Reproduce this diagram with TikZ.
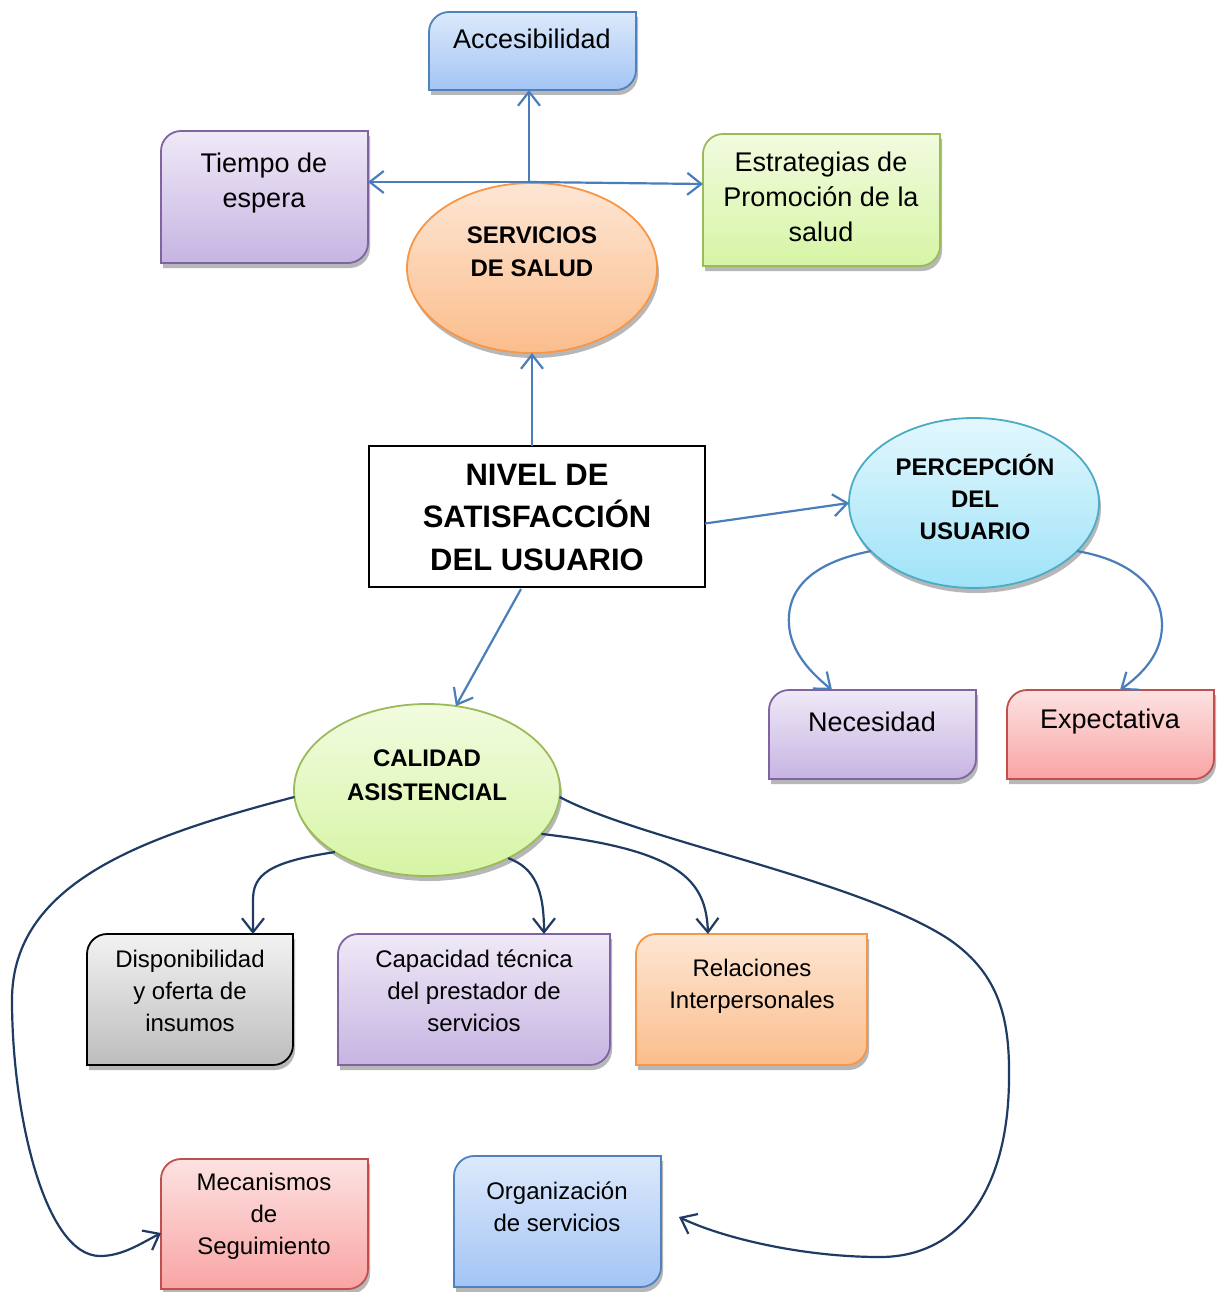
\documentclass[tikz,border=0pt]{standalone}
\usepackage{fontspec}
\setmainfont{Liberation Sans}
\usetikzlibrary{arrows.meta,shapes.geometric,shadows,calc,fit}

\definecolor{lineblue}{HTML}{4A7EBB}
\definecolor{navy}{HTML}{1F3B63}
\definecolor{blueT}{HTML}{DCE9FB}\definecolor{blueB}{HTML}{A3C4F5}\definecolor{blueD}{HTML}{4F81BD}
\definecolor{purpT}{HTML}{EFE9F7}\definecolor{purpB}{HTML}{C6B4E2}\definecolor{purpD}{HTML}{8064A2}
\definecolor{grnT}{HTML}{F2FBDF}\definecolor{grnB}{HTML}{D6F5A5}\definecolor{grnD}{HTML}{9BBB59}
\definecolor{orT}{HTML}{FDE6D4}\definecolor{orB}{HTML}{FBBD8C}\definecolor{orD}{HTML}{F79646}
\definecolor{redT}{HTML}{FDE2E2}\definecolor{redB}{HTML}{F9A4A4}\definecolor{redD}{HTML}{C0504D}
\definecolor{gryT}{HTML}{F2F2F2}\definecolor{gryB}{HTML}{BDBDBD}
\definecolor{cyT}{HTML}{E3F7FD}\definecolor{cyB}{HTML}{9FE3F8}\definecolor{cyD}{HTML}{4BACC6}

\tikzset{
  pane/.style={inner sep=0pt, outer sep=0pt},
  softshadow/.style={drop shadow={shadow xshift=2pt, shadow yshift=-5pt, fill=black!35, opacity=.8}},
  fblue/.style={top color=blueT, bottom color=blueB, draw=blueD},
  fpurp/.style={top color=purpT, bottom color=purpB, draw=purpD},
  fgrn/.style={top color=grnT, bottom color=grnB, draw=grnD},
  forg/.style={top color=orT, bottom color=orB, draw=orD},
  fred/.style={top color=redT, bottom color=redB, draw=redD},
  fgry/.style={top color=gryT, bottom color=gryB, draw=black},
  fcyan/.style={top color=cyT, bottom color=cyB, draw=cyD},
  bubble/.style={ellipse, inner sep=0pt, outer sep=0pt, line width=1.8pt,
    minimum width=250pt, minimum height=170pt, softshadow},
  big/.style={align=center, inner sep=0pt, font=\fontsize{27}{35}\selectfont},
  small/.style={align=center, inner sep=0pt, font=\fontsize{24}{32}\selectfont},
  bold/.style={align=center, inner sep=0pt, font=\bfseries\fontsize{24}{33}\selectfont},
  tip/.style={-{Straight Barb[length=14pt,width=22pt]}},
  blueln/.style={draw=lineblue, line width=2.2pt, tip},
  navyln/.style={draw=navy, line width=2.2pt, tip},
}

% box with rounded top-left and bottom-right corners, drawn on a named node
\newcommand\panel[2]{%
  \path[line width=1.8pt, softshadow, #2]
    ($(#1.north west)+(0,20)$) .. controls ($(#1.north west)+(0,9)$) and ($(#1.north west)+(9,0)$) .. ($(#1.north west)+(20,0)$)
    -- (#1.north east)
    -- ($(#1.south east)+(0,-20)$) .. controls ($(#1.south east)+(0,-9)$) and ($(#1.south east)+(-9,0)$) .. ($(#1.south east)+(-20,0)$)
    -- (#1.south west) -- cycle;}

\begin{document}
\begin{tikzpicture}[x=1pt, y=-1pt]
\fill[white] (0,0) rectangle (1219,1292);
\useasboundingbox (0,0) rectangle (1219,1292);

% box frames
\node[pane, fit={(429,12) (636,90)}] (acc) {};
\node[pane, fit={(161,131) (368,263)}] (tie) {};
\node[pane, fit={(703,134) (940,266)}] (est) {};
\node[pane, fit={(769,690) (976,779)}] (nec) {};
\node[pane, fit={(1007,690) (1214,779)}] (exp) {};
\node[pane, fit={(87,934) (293,1065)}] (dis) {};
\node[pane, fit={(338,934) (610,1065)}] (cap) {};
\node[pane, fit={(636,934) (867,1065)}] (rel) {};
\node[pane, fit={(161,1159) (368,1289)}] (mec) {};
\node[pane, fit={(454,1156) (661,1287)}] (org) {};

\panel{acc}{fblue}
\panel{tie}{fpurp}
\panel{est}{fgrn}
\panel{nec}{fpurp}
\panel{exp}{fred}
\panel{dis}{fgry}
\panel{cap}{fpurp}
\panel{rel}{forg}
\panel{mec}{fred}
\panel{org}{fblue}

% ellipses
\node[bubble, forg] (ser) at (532,268) {};
\node[bubble, fcyan] (per) at (974,503) {};
\node[bubble, fgrn, minimum width=266pt, minimum height=172pt] (cal) at (427,790) {};

% central box
\node[pane, draw=black, line width=1.3pt, fill=white, fit={(369,446) (705,587)}] (niv) {};

% labels
\node[big] (acc-t) at (532,39) {Accesibilidad};
\node[big] (tie-t) at (264,183) {Tiempo de\\espera};
\node[big] (est-t) at (821,197) {Estrategias de\\Promoción de la\\salud};
\node[big] (nec-t) at (872,722) {Necesidad};
\node[big] (exp-t) at (1110,722) {Expectativa};
\node[small] (dis-t) at (190,991) {Disponibilidad\\y oferta de\\insumos};
\node[small] (cap-t) at (474,991) {Capacidad técnica\\del prestador de\\servicios};
\node[small] (rel-t) at (752,986) {Relaciones\\Interpersonales};
\node[small] (mec-t) at (264,1216) {Mecanismos\\de\\Seguimiento};
\node[small] (org-t) at (557,1207) {Organización\\de servicios};
\node[bold] (ser-t) at (532,252) {SERVICIOS\\DE SALUD};
\node[bold, font=\bfseries\fontsize{24}{32}\selectfont] (per-t) at (975,497) {PERCEPCIÓN\\DEL\\USUARIO};
\node[bold, font=\bfseries\fontsize{24}{34}\selectfont] (cal-t) at (427,775) {CALIDAD\\ASISTENCIAL};
\node[align=center, inner sep=0pt, font=\bfseries\fontsize{31}{42.5}\selectfont] (niv-t) at (537,517) {NIVEL DE\\SATISFACCIÓN\\DEL USUARIO};

% blue connectors
\coordinate (hub) at (529,182);
\draw[blueln] (niv.north -| ser.south) -- (ser.south);
\draw[blueln] (hub) -- (hub |- acc.south);
\draw[blueln] (hub) -- (tie.east |- hub);
\draw[blueln] (hub) -- ($(est.west |- hub)+(0,2)$);
\draw[blueln] ($(niv.east)+(0,7)$) -- (per.west);
\draw[blueln] ($(niv.south)+(-16,2)$) -- (cal.71);
\draw[blueln] (per.205) .. controls (800,565) and (787,598) .. (789,625)
  .. controls (791,652) and (810,672) .. (nec.north -| 832,0);
\draw[blueln] (per.-25) .. controls (1140,562) and (1162,595) .. (1162,625)
  .. controls (1162,652) and (1145,672) .. (exp.north -| 1120,0);

% navy connectors
\draw[navyln] (cal.183) .. controls (150,835) and (12,880) .. (12,1000)
  .. controls (12,1115) and (45,1256) .. (100,1256)
  .. controls (122,1256) and (140,1244) .. (mec.west |- 0,1233);
\draw[navyln] (cal.-3) .. controls (640,840) and (860,880) .. (950,940)
  .. controls (1000,975) and (1010,1020) .. (1009,1080)
  .. controls (1008,1190) and (960,1257) .. (880,1257)
  .. controls (800,1257) and (720,1237) .. ($(org.east |- 0,1217)+(18,0)$);
\draw[navyln] (cal.214) .. controls (268,862) and (253,875) .. (253,900) -- (dis.north -| 253,0);
\draw[navyln] (cal.-40) .. controls (535,868) and (544,890) .. (cap.north -| 544,0);
\draw[navyln] (cal.-21) .. controls (680,850) and (706,880) .. (rel.north -| 708,0);
\end{tikzpicture}
\end{document}
